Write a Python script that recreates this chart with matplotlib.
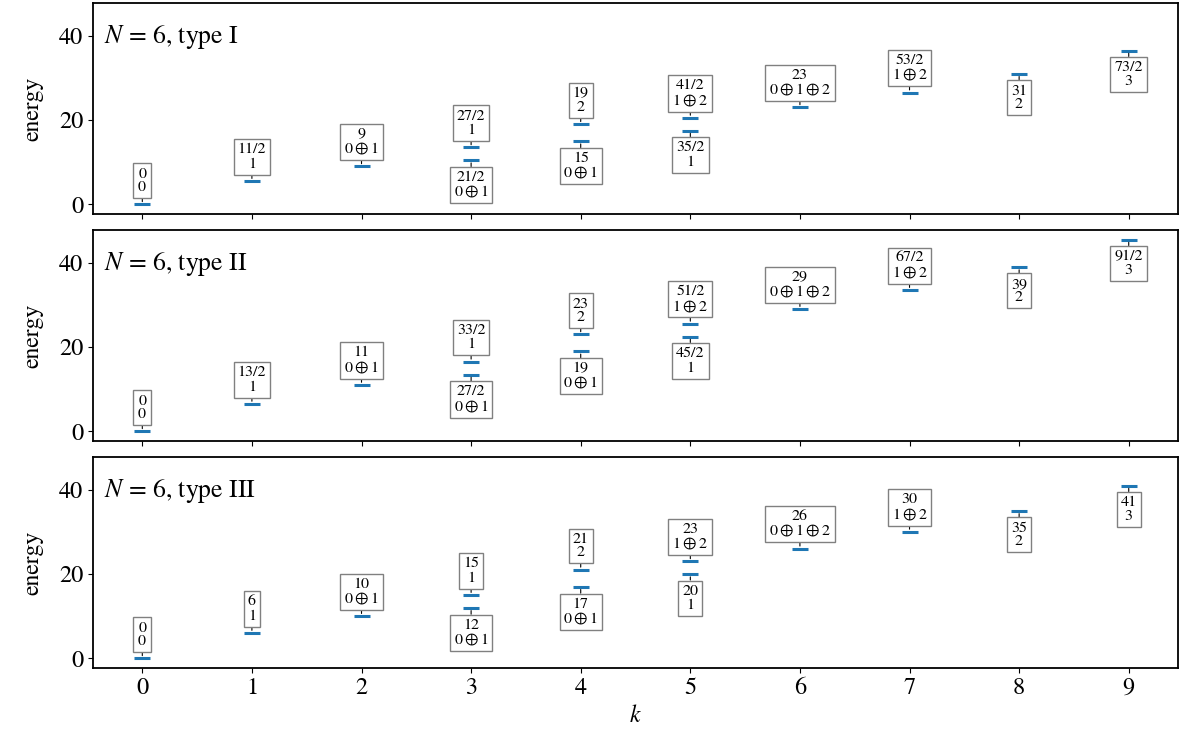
from fractions import Fraction

import matplotlib
matplotlib.use("Agg")
import matplotlib.pyplot as plt

plt.rcParams["font.family"] = "STIXGeneral"
plt.rcParams["mathtext.fontset"] = "stix"

# levels per momentum sector k: energy (exact fraction) and representation
k_I = [0, 1, 2, 3, 3, 4, 4, 5, 5, 6, 7, 8, 9]
energy_I = ["0", "11/2", "9", "21/2", "27/2", "15", "19", "35/2", "41/2", "23", "53/2", "31", "73/2"]
rep_I = ["0", "1", "0+1", "0+1", "1", "0+1", "2", "1", "1+2", "0+1+2", "1+2", "2", "3"]

k_II = [0, 1, 2, 3, 3, 4, 4, 5, 5, 6, 7, 8, 9]
energy_II = ["0", "13/2", "11", "27/2", "33/2", "19", "23", "45/2", "51/2", "29", "67/2", "39", "91/2"]
rep_II = ["0", "1", "0+1", "0+1", "1", "0+1", "2", "1", "1+2", "0+1+2", "1+2", "2", "3"]

k_III = [0, 1, 2, 3, 3, 4, 4, 5, 5, 6, 7, 8, 9]
energy_III = ["0", "6", "10", "12", "15", "17", "21", "20", "23", "26", "30", "35", "41"]
rep_III = ["0", "1", "0+1", "0+1", "1", "0+1", "2", "1", "1+2", "0+1+2", "1+2", "2", "3"]

panels = [
    (r"$N$ = 6, type I", k_I, energy_I, rep_I),
    (r"$N$ = 6, type II", k_II, energy_II, rep_II),
    (r"$N$ = 6, type III", k_III, energy_III, rep_III),
]


def rep_label(rep):
    return "$" + r"\oplus".join(rep.split("+")) + "$"


fig, axes = plt.subplots(3, 1, figsize=(11.86, 7.56), dpi=100, sharex=True, sharey=True)
fig.subplots_adjust(left=0.0784, right=0.9933, top=0.996, bottom=0.1164, hspace=0.076)

for ax, (title, ks, energies, reps) in zip(axes, panels):
    values = [float(Fraction(e)) for e in energies]
    ax.plot(ks, values, ls="none", marker="_", ms=12, mew=2.2, color="tab:blue")

    for k, e, val, rep in zip(ks, energies, values, reps):
        others = [v for kk, v in zip(ks, values) if kk == k and v != val]
        below = k >= 8 or (others and val < min(others))
        off = -7.5 if below else 7.5
        ax.annotate(
            f"{e}\n{rep_label(rep)}",
            xy=(k, val), xytext=(0, off), textcoords="offset points",
            ha="center", va="top" if below else "bottom",
            fontsize=11.5, linespacing=0.95,
            bbox=dict(boxstyle="square,pad=0.25", fc="white", ec="gray", lw=1),
            arrowprops=dict(arrowstyle="-", lw=0.8, color="black", shrinkA=0, shrinkB=2),
        )

    ax.text(0.01, 0.84, title, transform=ax.transAxes, fontsize=18.5, va="center")
    ax.set_ylabel("energy", fontsize=17, labelpad=11)
    ax.tick_params(labelsize=17.5)
    for s in ax.spines.values():
        s.set_linewidth(1.3)

axes[-1].set_xticks(range(10))
axes[-1].set_yticks([0, 20, 40])
axes[-1].set_xlabel("$k$", fontsize=17)

fig.savefig("out.png", dpi=100)
